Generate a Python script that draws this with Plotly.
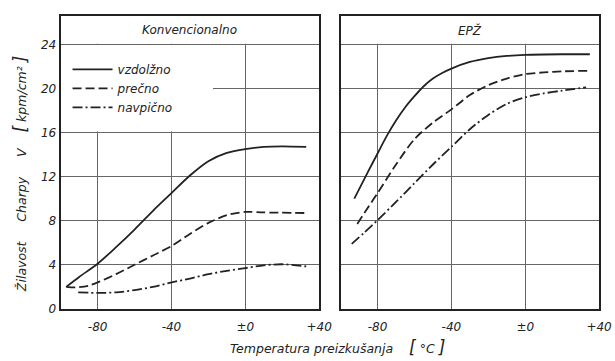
import plotly.graph_objects as go

# ---- data ----
series_names = ["vzdolžno", "prečno", "navpično"]
panel_titles = ["Konvencionalno", "EPŽ"]

# Konvencionalno
conv_vzd_t = [-97, -90, -80, -70, -60, -50, -40, -30, -20, -10, 0, 10, 20, 33]
conv_vzd_v = [2.0, 2.9, 4.1, 5.6, 7.2, 8.9, 10.5, 12.1, 13.4, 14.15, 14.5, 14.7, 14.75, 14.7]
conv_pre_t = [-97, -92, -85, -80, -70, -60, -50, -40, -30, -20, -10, 0, 10, 33]
conv_pre_v = [2.0, 1.95, 2.1, 2.4, 3.15, 4.0, 4.85, 5.7, 6.8, 7.8, 8.5, 8.8, 8.75, 8.7]
conv_nav_t = [-90.5, -80, -70, -60, -50, -40, -30, -20, -10, 0, 10, 20, 33]
conv_nav_v = [1.5, 1.45, 1.5, 1.7, 2.0, 2.4, 2.75, 3.15, 3.45, 3.7, 3.95, 4.05, 3.85]

# EPŽ
epz_vzd_t = [-92.6, -85, -80, -75, -70, -65, -60, -55, -50, -45, -40, -30, -20, -10, 0, 20, 35]
epz_vzd_v = [10.0, 12.5, 14.1, 15.7, 17.1, 18.3, 19.3, 20.2, 20.9, 21.4, 21.8, 22.4, 22.75, 22.95, 23.05, 23.1, 23.1]
epz_pre_t = [-91, -85, -80, -70, -60, -50, -40, -30, -20, -10, 0, 10, 20, 34]
epz_pre_v = [7.7, 9.25, 10.5, 13.1, 15.4, 16.9, 18.1, 19.4, 20.3, 20.9, 21.3, 21.45, 21.55, 21.6]
epz_nav_t = [-94, -87, -80, -70, -60, -50, -40, -30, -20, -10, 0, 10, 20, 33]
epz_nav_v = [5.9, 6.95, 8.05, 9.7, 11.4, 13.1, 14.7, 16.3, 17.6, 18.6, 19.2, 19.55, 19.8, 20.1]

x_ticks = [-80, -40, 0, 40]
x_tick_labels = ["-80", "-40", "±0", "+40"]
y_ticks = [0, 4, 8, 12, 16, 20, 24]
y_tick_labels = ["0", "4", "8", "12", "16", "20", "24"]

X_RANGE = [-100, 40]
Y_RANGE = [0, 26.6]

INK = "#222222"
GRID = "#666666"
FONT = "DejaVu Sans"
dashes = ["solid", "9px,4px", "10px,3px,2px,3px"]

W, H = 615, 361
fig = go.Figure()

panels = [
    ("x", "y", [(conv_vzd_t, conv_vzd_v), (conv_pre_t, conv_pre_v), (conv_nav_t, conv_nav_v)], True),
    ("x2", "y2", [(epz_vzd_t, epz_vzd_v), (epz_pre_t, epz_pre_v), (epz_nav_t, epz_nav_v)], False),
]
for xa, ya, data, show in panels:
    for (t, v), name, d in zip(data, series_names, dashes):
        fig.add_trace(go.Scatter(
            x=t, y=v, mode="lines", name=name, xaxis=xa, yaxis=ya,
            line=dict(color=INK, width=1.8, dash=d, shape="spline", smoothing=0.8),
            showlegend=show, hoverinfo="skip"))

axis_common = dict(
    range=X_RANGE, tickvals=x_ticks, ticktext=x_tick_labels,
    showgrid=True, gridcolor=GRID, gridwidth=1, zeroline=False,
    showline=True, linecolor=INK, linewidth=2.2, mirror=True,
    ticks="outside", ticklen=6, tickcolor="rgba(0,0,0,0)",
    tickfont=dict(family=FONT, size=12, color=INK, style="italic"),
)
yaxis_common = dict(
    range=Y_RANGE, tickvals=y_ticks, ticktext=y_tick_labels,
    showgrid=True, gridcolor=GRID, gridwidth=1, zeroline=False,
    showline=True, linecolor=INK, linewidth=2.2, mirror=True, ticks="",
    tickfont=dict(family=FONT, size=12, color=INK, style="italic"),
    domain=[1 - 315 / H, 1 - 16 / H],
)

fig.update_layout(
    width=W, height=H, margin=dict(l=0, r=0, t=0, b=0),
    paper_bgcolor="white", plot_bgcolor="white",
    xaxis=dict(axis_common, domain=[62 / W, 326 / W], anchor="y"),
    xaxis2=dict(axis_common, domain=[348 / W, 612 / W], anchor="y2"),
    yaxis=dict(yaxis_common, anchor="x"),
    yaxis2=dict(yaxis_common, anchor="x2", showticklabels=False),
    legend=dict(x=69 / W, y=1 - 56 / H, xanchor="left", yanchor="top",
                bgcolor="rgba(0,0,0,0)", borderwidth=0,
                font=dict(family=FONT, size=12, color=INK, style="italic"),
                itemwidth=40, tracegroupgap=0),
    showlegend=True,
)

# blank header bands and legend area (cover gridlines, under traces/axes)
for xr, yr in (("x", "y"), ("x2", "y2")):
    fig.add_shape(type="rect", xref=xr, yref=yr, x0=X_RANGE[0], x1=X_RANGE[1],
                  y0=24.05, y1=Y_RANGE[1], fillcolor="white", line_width=0, layer="between")
fig.add_shape(type="rect", xref="x", yref="y", x0=X_RANGE[0], x1=-17.5,
              y0=16.1, y1=23.95, fillcolor="white", line_width=0, layer="between")

for xr, title in (("x domain", panel_titles[0]), ("x2 domain", panel_titles[1])):
    fig.add_annotation(x=0.5, xref=xr, y=25.3, yref="y", text=title, showarrow=False,
                       font=dict(family=FONT, size=12, color=INK, style="italic"))

big = "<span style='font-size:17px'>%s</span>"
fig.add_annotation(x=20 / W, xref="paper", y=1 - 178 / H, yref="paper", textangle=-90,
                   xanchor="center", yanchor="middle",
                   text="Žilavost     Charpy     V    " + big % "[" + " kpm/cm² " + big % "]",
                   showarrow=False,
                   font=dict(family=FONT, size=12.5, color=INK, style="italic"))
fig.add_annotation(x=345 / W, xref="paper", y=1 - 354 / H, yref="paper",
                   xanchor="center", yanchor="middle",
                   text="Temperatura preizkušanja    " + big % "[" + " °C " + big % "]",
                   showarrow=False,
                   font=dict(family=FONT, size=12.5, color=INK, style="italic"))

fig.write_html("out.html")
